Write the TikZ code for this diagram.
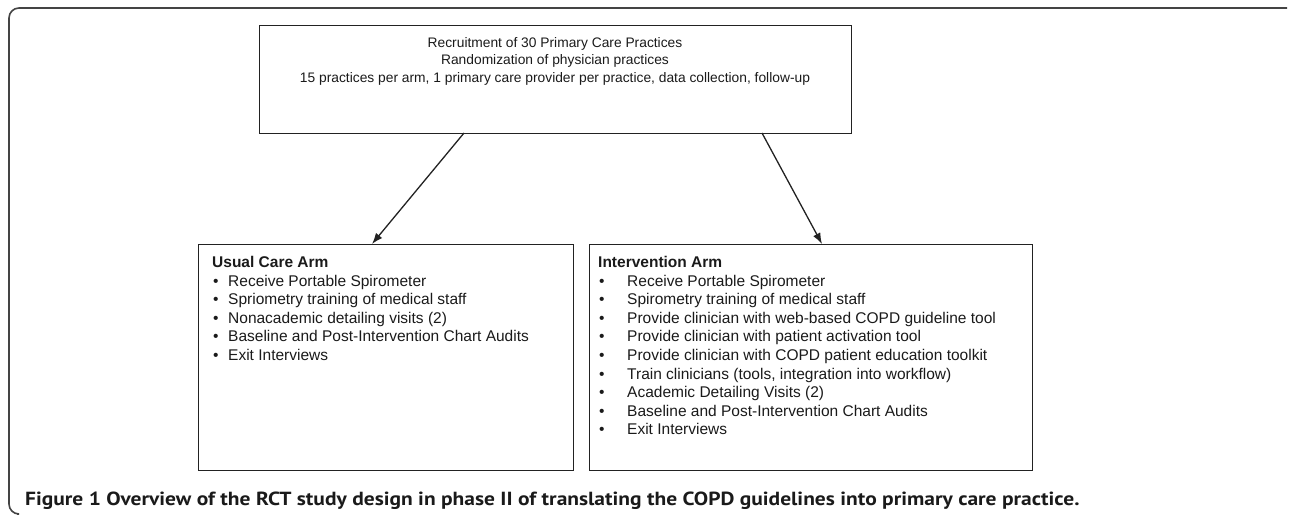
\documentclass[tikz,border=0pt]{standalone}
\usepackage{fontspec}
\setmainfont{Liberation Sans}
\newfontfamily\capfont[FakeStretch=1.13]{PT Sans}
\usetikzlibrary{arrows.meta}
\definecolor{linec}{HTML}{222222}
\definecolor{framec}{HTML}{444444}
\definecolor{textc}{HTML}{1A1A1A}
\newcommand{\bitemL}[1]{\makebox[16pt][l]{\hspace{1pt}•}#1}
\newcommand{\bitemR}[1]{\makebox[29pt][l]{\hspace{1pt}•}#1}
\begin{document}
\begin{tikzpicture}[x=1pt,y=-1pt,
  boxst/.style={draw=linec,line width=1.2pt},
  arr/.style={draw=linec,line width=1.3pt,-{Latex[length=11pt,width=8pt]}},
  toptxt/.style={text=textc,font=\fontsize{13.8}{17.5}\selectfont,inner sep=0pt},
  txt/.style={text=textc,font=\fontsize{15.5}{18.6}\selectfont,inner sep=0pt}]
\useasboundingbox (0,0) rectangle (1290,516);
% outer partial frame
\draw[framec,line width=1.6pt,rounded corners=10pt] (1287,8) -- (9,8) -- (9,514) -- (17,514);
% boxes
\node[boxst,minimum width=592pt,minimum height=108pt,anchor=north west,inner sep=0pt] (top) at (259,25) {};
\node[boxst,minimum width=375pt,minimum height=226pt,anchor=north west,inner sep=0pt] (usual) at (198,244) {};
\node[boxst,minimum width=443pt,minimum height=226pt,anchor=north west,inner sep=0pt] (inter) at (589,244) {};
% top text
\node[toptxt,align=center,anchor=north] (toptext) at (555,37) {Recruitment of 30 Primary Care Practices\\Randomization of physician practices\\15 practices per arm, 1 primary care provider per practice, data collection, follow-up};
% left text
\node[txt,align=left,anchor=north west] (usualtext) at (212,256) {\textbf{Usual Care Arm}\\
\bitemL{Receive Portable Spirometer}\\
\bitemL{Spriometry training of medical staff}\\
\bitemL{Nonacademic detailing visits (2)}\\
\bitemL{Baseline and Post-Intervention Chart Audits}\\
\bitemL{Exit Interviews}};
% right text
\node[txt,align=left,anchor=north west] (intertext) at (598,256) {\textbf{Intervention Arm}\\
\bitemR{Receive Portable Spirometer}\\
\bitemR{Spirometry training of medical staff}\\
\bitemR{Provide clinician with web-based COPD guideline tool}\\
\bitemR{Provide clinician with patient activation tool}\\
\bitemR{Provide clinician with COPD patient education toolkit}\\
\bitemR{Train clinicians (tools, integration into workflow)}\\
\bitemR{Academic Detailing Visits (2)}\\
\bitemR{Baseline and Post-Intervention Chart Audits}\\
\bitemR{Exit Interviews}};
% arrows
\coordinate (a1) at (464,133);
\coordinate (a2) at (762,133);
\draw[arr] (a1) -- (usual.north -| 372,0);
\draw[arr] (a2) -- (inter.north -| 822,0);
% caption
\node[inner sep=0pt,anchor=base west,text=textc,font=\capfont\bfseries\fontsize{19}{21}\selectfont] (cap) at (25,505) {Figure 1 Overview of the RCT study design in phase II of translating the COPD guidelines into primary care practice.};
\end{tikzpicture}
\end{document}
